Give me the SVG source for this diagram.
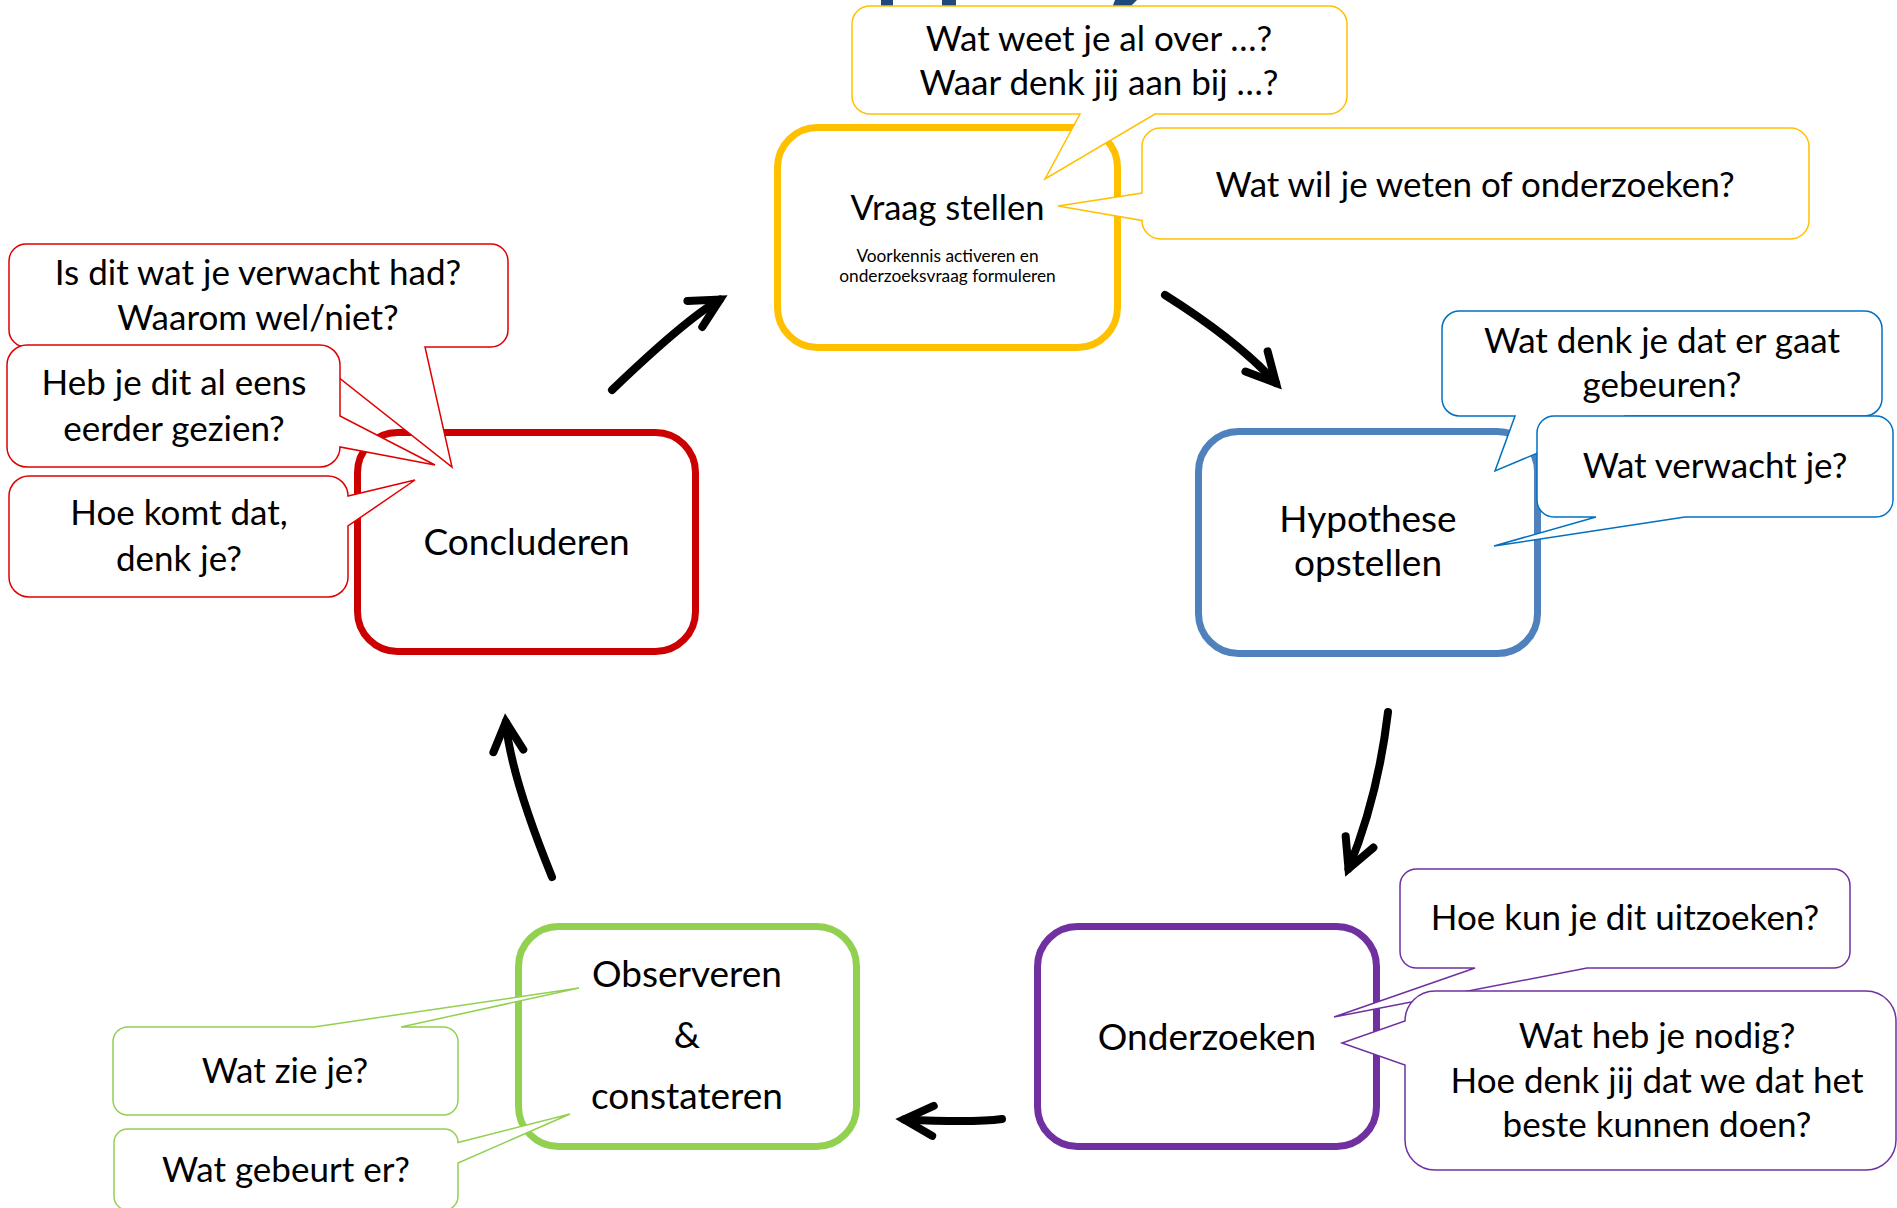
<svg xmlns="http://www.w3.org/2000/svg" width="1897" height="1208" viewBox="0 0 1897 1208">
<style>
text{font-family:Lato,"Open Sans","Liberation Sans",sans-serif;fill:#000;text-anchor:middle}
.q{font-size:35px}
.n{font-size:37px}
.ns{font-size:34.5px}
.sub{font-size:17.3px}
.node{fill:#fff;stroke-width:7}
.co{fill:#fff;stroke-width:1.5;stroke-linejoin:miter}
.arr{fill:none;stroke:#000;stroke-width:8;stroke-linecap:round}
</style>
<defs>
<marker id="ah" markerUnits="userSpaceOnUse" orient="auto" overflow="visible" markerWidth="60" markerHeight="60" refX="0" refY="0">
<path d="M-29,-15 L0,0 L-29,15" fill="none" stroke="#000" stroke-width="8" stroke-linecap="round" stroke-linejoin="miter"/>
</marker>
</defs>
<rect width="1897" height="1208" fill="#fff"/>
<g id="title-fragment" fill="#1F497D">
<rect x="881" y="0" width="12" height="8"/>
<rect x="942" y="0" width="14" height="8"/>
<polygon points="1115,0 1137,0 1129,8 1112,8"/>
</g>
<g id="connectors">
<path class="arr" d="M612,390 Q686,319 720,299.5" marker-end="url(#ah)"/>
<path class="arr" d="M1165,295 Q1238,341 1276,383" marker-end="url(#ah)"/>
<path class="arr" d="M1388,712 Q1378,797 1348.5,868.7" marker-end="url(#ah)"/>
<path class="arr" d="M1002,1119 Q973,1123 904,1119.4" marker-end="url(#ah)"/>
<path class="arr" d="M552,877 Q510.5,775 505.8,722" marker-end="url(#ah)"/>
</g>
<g id="node-vraag">
<rect class="node" x="777.5" y="127.5" width="340" height="220" rx="40" stroke="#FFC000"/>
<text class="ns" x="947.5" y="220">Vraag stellen</text>
<text class="sub" x="947.5" y="262">Voorkennis activeren en</text>
<text class="sub" x="947.5" y="282">onderzoeksvraag formuleren</text>
</g>
<g id="node-hypothese">
<rect class="node" x="1198.5" y="431.5" width="339" height="222" rx="40" stroke="#4F81BD"/>
<text class="n" x="1368" y="532">Hypothese</text>
<text class="n" x="1368" y="576">opstellen</text>
</g>
<g id="node-onderzoeken">
<rect class="node" x="1037.5" y="926.5" width="339" height="220" rx="40" stroke="#7030A0"/>
<text class="n" x="1207" y="1050">Onderzoeken</text>
</g>
<g id="node-observeren">
<rect class="node" x="518.5" y="926.5" width="338" height="220" rx="40" stroke="#92D050"/>
<text class="n" x="687" y="987">Observeren</text>
<text class="n" x="687" y="1048">&amp;</text>
<text class="n" x="687" y="1109">constateren</text>
</g>
<g id="node-concluderen">
<rect class="node" x="357.5" y="432.5" width="338" height="219" rx="40" stroke="#CC0000"/>
<text class="n" x="526.5" y="555">Concluderen</text>
</g>
<g id="callout-voorkennis">
<path class="co" stroke="#FFC000" d="M870,6 H1329 A18 18 0 0 1 1347,24 V96 A18 18 0 0 1 1329,114 H1155 L1045,179 L1080,114 H870 A18 18 0 0 1 852,96 V24 A18 18 0 0 1 870,6 Z"/>
<text class="q" x="1099" y="51">Wat weet je al over …?</text>
<text class="q" x="1099" y="95">Waar denk jij aan bij …?</text>
</g>
<g id="callout-weten">
<path class="co" stroke="#FFC000" d="M1160.5,128 H1790.5 A18.5 18.5 0 0 1 1809,146.5 V220.5 A18.5 18.5 0 0 1 1790.5,239 H1160.5 A18.5 18.5 0 0 1 1142,220.5 L1058,206 L1142,193 V146.5 A18.5 18.5 0 0 1 1160.5,128 Z"/>
<text class="q" x="1475" y="197">Wat wil je weten of onderzoeken?</text>
</g>
<g id="callout-gebeuren">
<path class="co" stroke="#0070C0" d="M1459.5,311 H1864.5 A17.5 17.5 0 0 1 1882,328.5 V398.5 A17.5 17.5 0 0 1 1864.5,416 H1625 L1495,471 L1515,416 H1459.5 A17.5 17.5 0 0 1 1442,398.5 V328.5 A17.5 17.5 0 0 1 1459.5,311 Z"/>
<text class="q" x="1662" y="353">Wat denk je dat er gaat</text>
<text class="q" x="1662" y="397">gebeuren?</text>
</g>
<g id="callout-verwacht">
<path class="co" stroke="#0070C0" d="M1554,416 H1876 A17 17 0 0 1 1893,433 V500 A17 17 0 0 1 1876,517 H1685 L1494,546 L1596,517 H1554 A17 17 0 0 1 1537,500 V433 A17 17 0 0 1 1554,416 Z"/>
<text class="q" x="1715" y="478">Wat verwacht je?</text>
</g>
<g id="callout-uitzoeken">
<path class="co" stroke="#7030A0" d="M1416.5,869 H1833.5 A16.5 16.5 0 0 1 1850,885.5 V951.5 A16.5 16.5 0 0 1 1833.5,968 H1587 L1334,1017 L1475,968 H1416.5 A16.5 16.5 0 0 1 1400,951.5 V885.5 A16.5 16.5 0 0 1 1416.5,869 Z"/>
<text class="q" x="1625" y="930">Hoe kun je dit uitzoeken?</text>
</g>
<g id="callout-nodig">
<path class="co" stroke="#7030A0" d="M1435,991 H1866 A30 30 0 0 1 1896,1021 V1140 A30 30 0 0 1 1866,1170 H1435 A30 30 0 0 1 1405,1140 V1065 L1342,1043 L1405,1021 A30 30 0 0 1 1435,991 Z"/>
<text class="q" x="1657" y="1048">Wat heb je nodig?</text>
<text class="q" x="1657" y="1093">Hoe denk jij dat we dat het</text>
<text class="q" x="1657" y="1137">beste kunnen doen?</text>
</g>
<g id="callout-zie">
<path class="co" stroke="#92D050" d="M127.7,1027 H314 L579,988 L401,1027 H443.3 A14.7 14.7 0 0 1 458,1041.7 V1100.3 A14.7 14.7 0 0 1 443.3,1115 H127.7 A14.7 14.7 0 0 1 113,1100.3 V1041.7 A14.7 14.7 0 0 1 127.7,1027 Z"/>
<text class="q" x="285" y="1083">Wat zie je?</text>
</g>
<g id="callout-gebeurt">
<path class="co" stroke="#92D050" d="M127.5,1129 H444.5 A13.5 13.5 0 0 1 458,1142.5 L570,1114 L458,1163 V1196.5 A13.5 13.5 0 0 1 444.5,1210 H127.5 A13.5 13.5 0 0 1 114,1196.5 V1142.5 A13.5 13.5 0 0 1 127.5,1129 Z"/>
<text class="q" x="286" y="1182">Wat gebeurt er?</text>
</g>
<g id="callout-verwacht-had">
<path class="co" stroke="#E00000" d="M26,244 H491 A17 17 0 0 1 508,261 V330 A17 17 0 0 1 491,347 H425 L452,467 L300,347 H26 A17 17 0 0 1 9,330 V261 A17 17 0 0 1 26,244 Z"/>
<text class="q" x="258" y="285">Is dit wat je verwacht had?</text>
<text class="q" x="258" y="330">Waarom wel/niet?</text>
</g>
<g id="callout-eerder">
<path class="co" stroke="#E00000" d="M27,345 H320 A20 20 0 0 1 340,365 V416 L435,465 L340,447 A20 20 0 0 1 320,467 H27 A20 20 0 0 1 7,447 V365 A20 20 0 0 1 27,345 Z"/>
<text class="q" x="174" y="395">Heb je dit al eens</text>
<text class="q" x="174" y="441">eerder gezien?</text>
</g>
<g id="callout-hoe-komt">
<path class="co" stroke="#E00000" d="M29,476 H328 A20 20 0 0 1 348,496 L415,480 L348,526 V577 A20 20 0 0 1 328,597 H29 A20 20 0 0 1 9,577 V496 A20 20 0 0 1 29,476 Z"/>
<text class="q" x="179" y="525">Hoe komt dat,</text>
<text class="q" x="179" y="571">denk je?</text>
</g>
</svg>
